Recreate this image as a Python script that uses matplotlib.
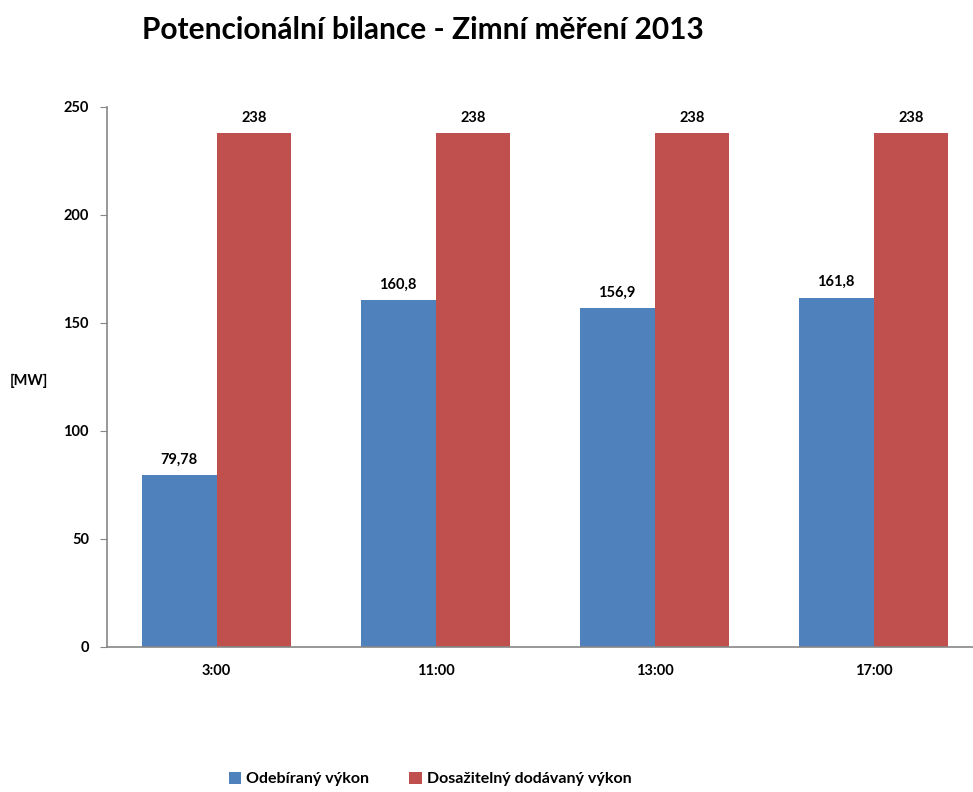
import matplotlib
matplotlib.use("Agg")
import matplotlib.pyplot as plt
import numpy as np

categories = ["3:00", "11:00", "13:00", "17:00"]
odebirany = [79.78, 160.8, 156.9, 161.8]
dosazitelny = [238, 238, 238, 238]
odebirany_labels = ["79,78", "160,8", "156,9", "161,8"]
dosazitelny_labels = ["238", "238", "238", "238"]
series_names = ["Odebíraný výkon", "Dosažitelný dodávaný výkon"]
yticks = [0, 50, 100, 150, 200, 250]

plt.rcParams['font.family'] = ['Lato', 'DejaVu Sans']

fig = plt.figure(figsize=(9.73, 7.92), dpi=100)
ax = fig.add_axes([107/973, 145/792, 876/973, 540/792])

x = np.arange(len(categories))
w = 0.342
blue = "#4F81BD"
red = "#C0504D"
b1 = ax.bar(x - w/2, odebirany, w, color=blue, label=series_names[0])
b2 = ax.bar(x + w/2, dosazitelny, w, color=red, label=series_names[1])

for rect, lab in zip(b1, odebirany_labels):
    ax.annotate(lab, (rect.get_x() + rect.get_width()/2, rect.get_height()),
                xytext=(0, 6), textcoords="offset points", ha="center", va="bottom",
                fontsize=10.5, fontweight="bold", color="#000000")
for rect, lab in zip(b2, dosazitelny_labels):
    ax.annotate(lab, (rect.get_x() + rect.get_width()/2, rect.get_height()),
                xytext=(0, 6), textcoords="offset points", ha="center", va="bottom",
                fontsize=10.5, fontweight="bold", color="#000000")

ax.set_xlim(-0.5, len(categories) - 0.5)
ax.set_ylim(0, 250)
ax.set_yticks(yticks)
ax.set_yticklabels([str(t) for t in yticks], fontsize=10.5, fontweight="bold")
ax.set_xticks(x)
ax.set_xticklabels(categories, fontsize=10.5, fontweight="bold")
ax.tick_params(axis="x", length=0, pad=12)
ax.tick_params(axis="y", length=5, color="#868686", pad=8)

for s in ["top", "right"]:
    ax.spines[s].set_visible(False)
for s in ["left", "bottom"]:
    ax.spines[s].set_color("#868686")
    ax.spines[s].set_linewidth(1.2)

fig.text(10/973, 1 - 381/792, "[MW]", fontsize=10.5, fontweight="bold", ha="left", va="center")

fig.text(423/973, 1 - 30/792, "Potencionální bilance - Zimní měření 2013",
         fontsize=21.5, fontweight="bold", ha="center", va="center")

leg = fig.legend(handles=[b1, b2], labels=series_names, loc="center",
                 bbox_to_anchor=(430/973, 1 - 779/792), ncol=2, frameon=False,
                 handlelength=0.8, handleheight=0.8, handletextpad=0.3,
                 columnspacing=2.5, prop={"weight": "bold", "size": 11.5})

fig.savefig("out.png", dpi=100)
